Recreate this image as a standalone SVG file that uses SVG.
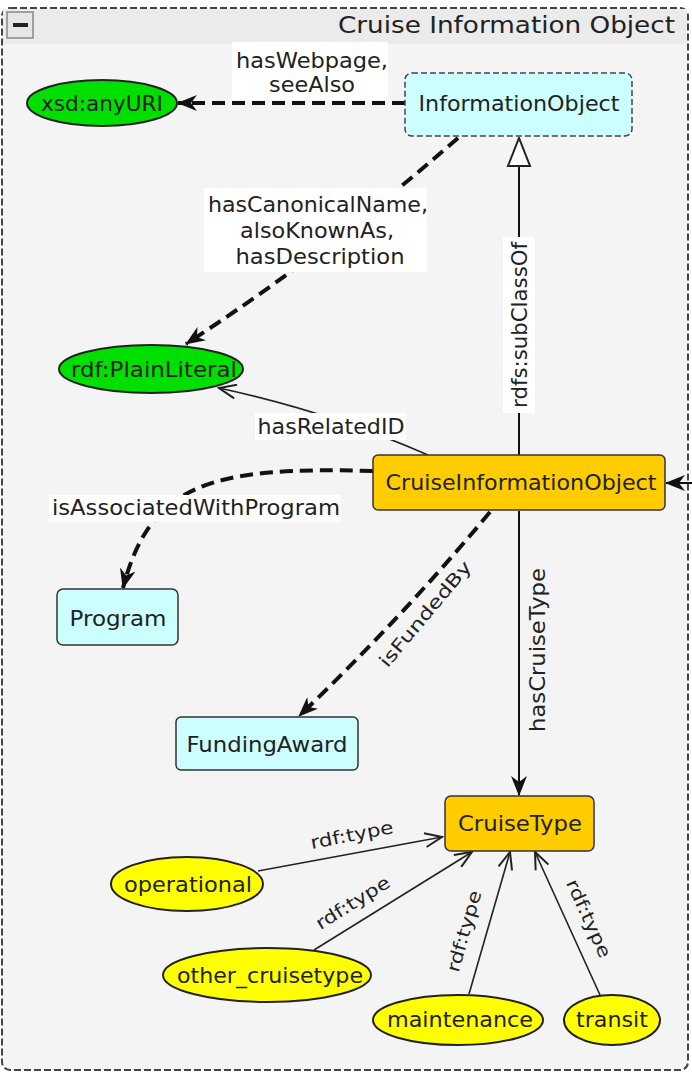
<svg xmlns="http://www.w3.org/2000/svg" width="692" height="1074" viewBox="0 0 692 1074">
<defs>
<style>
text{font-family:"DejaVu Sans","Liberation Sans",sans-serif;fill:#222;font-size:21px}
.c{text-anchor:middle}
.box{stroke:#333;stroke-width:1.5}
.cls{fill:#ccffff}
.main{fill:#ffcc00}
.lit{fill:#00e000;stroke:#222;stroke-width:2}
.ind{fill:#ffff00;stroke:#222;stroke-width:2}
.dash{fill:none;stroke:#111;stroke-width:4;stroke-dasharray:13,7}
.thin{fill:none;stroke:#222;stroke-width:1.6}
.solid{fill:none;stroke:#111;stroke-width:2}
.lbl{fill:#ffffff}
.sm{font-size:18px}
</style>
<marker id="fill" viewBox="0 0 20 16" refX="19" refY="8" markerWidth="20" markerHeight="16" markerUnits="userSpaceOnUse" orient="auto">
<path d="M0,0 L20,8 L0,16 L6,8 Z" fill="#111"/>
</marker>
<marker id="open" viewBox="0 0 20 16" refX="18" refY="8" markerWidth="20" markerHeight="16" markerUnits="userSpaceOnUse" orient="auto">
<path d="M1,1 L18,8 L1,15" fill="none" stroke="#222" stroke-width="2"/>
</marker>
<marker id="hollow" viewBox="0 0 30 26" refX="29" refY="13" markerWidth="30" markerHeight="26" markerUnits="userSpaceOnUse" orient="auto">
<path d="M1,2 L29,13 L1,24 Z" fill="#fff" stroke="#222" stroke-width="2"/>
</marker>
</defs>

<g id="frame">
<rect x="2" y="8" width="686" height="1062" rx="8" fill="#f4f4f4" stroke="#444" stroke-width="2" stroke-dasharray="7,3"/>
<rect x="3" y="9" width="684" height="35" fill="#ebebeb"/>
<rect x="7" y="12" width="26" height="26" fill="#e6e6e6" stroke="#888" stroke-width="1.5"/>
<rect x="13" y="23" width="15" height="4" fill="#222"/>
<text x="675" y="33" style="text-anchor:end;font-size:23px" textLength="337" lengthAdjust="spacingAndGlyphs">Cruise Information Object</text>
</g>

<g id="connectors">
<path class="dash" d="M405,103 L178,103" marker-end="url(#fill)"/>
<rect class="lbl" x="232" y="42" width="156" height="58"/>
<text class="c" x="312" y="68" textLength="152" lengthAdjust="spacingAndGlyphs">hasWebpage,</text>
<text class="c" x="312" y="92" textLength="86" lengthAdjust="spacingAndGlyphs">seeAlso</text>

<path class="dash" d="M458,138 Q 330,250 186,344" marker-end="url(#fill)"/>
<rect class="lbl" x="204" y="188" width="223" height="84"/>
<text class="c" x="318" y="212" textLength="220" lengthAdjust="spacingAndGlyphs">hasCanonicalName,</text>
<text class="c" x="317" y="238" textLength="154" lengthAdjust="spacingAndGlyphs">alsoKnownAs,</text>
<text class="c" x="320" y="264" textLength="169" lengthAdjust="spacingAndGlyphs">hasDescription</text>

<path class="solid" d="M519,456 L519,138" marker-end="url(#hollow)"/>
<rect class="lbl" x="503" y="237" width="32" height="176"/>
<text class="c" transform="translate(527,325) rotate(-90)" x="0" y="0" textLength="166" lengthAdjust="spacingAndGlyphs">rdfs:subClassOf</text>

<path class="thin" d="M428,455 Q 330,412 219,388" marker-end="url(#open)"/>
<rect class="lbl" x="255" y="413" width="151" height="27"/>
<text class="c" x="331" y="434" textLength="147" lengthAdjust="spacingAndGlyphs">hasRelatedID</text>

<path class="dash" d="M373,471 C 210,466 150,484 123,588" marker-end="url(#fill)"/>
<rect class="lbl" x="49" y="495" width="292" height="27"/>
<text class="c" x="196" y="515" textLength="288" lengthAdjust="spacingAndGlyphs">isAssociatedWithProgram</text>

<path class="dash" d="M490,512 Q 400,620 299,716" marker-end="url(#fill)"/>
<text class="c sm" transform="translate(430,618) rotate(-50)" x="0" y="0" textLength="132" lengthAdjust="spacingAndGlyphs">isFundedBy</text>

<path class="solid" d="M519,511 L519,795" marker-end="url(#fill)"/>
<text class="c" transform="translate(545,650) rotate(-90)" x="0" y="0" textLength="164" lengthAdjust="spacingAndGlyphs">hasCruiseType</text>

<path class="solid" d="M692,483 L666,483" marker-end="url(#fill)"/>

<path class="thin" d="M258,871 L442,837" marker-end="url(#open)"/>
<text class="c sm" transform="translate(353,841) rotate(-11)" x="0" y="0" textLength="84" lengthAdjust="spacingAndGlyphs">rdf:type</text>

<path class="thin" d="M314,950 L472,852" marker-end="url(#open)"/>
<text class="c sm" transform="translate(356,908) rotate(-32)" x="0" y="0" textLength="84" lengthAdjust="spacingAndGlyphs">rdf:type</text>

<path class="thin" d="M469,994 L510,852" marker-end="url(#open)"/>
<text class="c sm" transform="translate(470,933) rotate(-74)" x="0" y="0" textLength="84" lengthAdjust="spacingAndGlyphs">rdf:type</text>

<path class="thin" d="M600,995 L535,852" marker-end="url(#open)"/>
<text class="c sm" transform="translate(583,921) rotate(65.6)" x="0" y="0" textLength="84" lengthAdjust="spacingAndGlyphs">rdf:type</text>
</g>

<g id="n-anyURI">
<ellipse class="lit" cx="102" cy="103" rx="75" ry="23"/>
<text class="c" x="102" y="111" textLength="122" lengthAdjust="spacingAndGlyphs">xsd:anyURI</text>
</g>
<g id="n-InformationObject">
<rect class="cls" x="405" y="73" width="227" height="63" rx="7" stroke="#444" stroke-width="1.5" stroke-dasharray="6,3"/>
<text class="c" x="519" y="111" textLength="201" lengthAdjust="spacingAndGlyphs">InformationObject</text>
</g>
<g id="n-PlainLiteral">
<ellipse class="lit" cx="151" cy="369" rx="92" ry="24"/>
<text class="c" x="154" y="377" textLength="166" lengthAdjust="spacingAndGlyphs">rdf:PlainLiteral</text>
</g>
<g id="n-CruiseInformationObject">
<rect class="main box" x="373" y="455" width="292" height="55" rx="5"/>
<text class="c" x="521" y="490" textLength="271" lengthAdjust="spacingAndGlyphs">CruiseInformationObject</text>
</g>
<g id="n-Program">
<rect class="cls box" x="57" y="589" width="121" height="56" rx="6"/>
<text class="c" x="118" y="626" textLength="97" lengthAdjust="spacingAndGlyphs">Program</text>
</g>
<g id="n-FundingAward">
<rect class="cls box" x="176" y="717" width="182" height="53" rx="5"/>
<text class="c" x="267" y="752" textLength="161" lengthAdjust="spacingAndGlyphs">FundingAward</text>
</g>
<g id="n-CruiseType">
<rect class="main box" x="445" y="796" width="149" height="55" rx="6"/>
<text class="c" x="520" y="831" textLength="124" lengthAdjust="spacingAndGlyphs">CruiseType</text>
</g>
<g id="n-operational">
<ellipse class="ind" cx="187" cy="884" rx="76" ry="27"/>
<text class="c" x="188" y="892" textLength="128" lengthAdjust="spacingAndGlyphs">operational</text>
</g>
<g id="n-other_cruisetype">
<ellipse class="ind" cx="267" cy="975" rx="104" ry="27"/>
<text class="c" x="270" y="983" textLength="186" lengthAdjust="spacingAndGlyphs">other_cruisetype</text>
</g>
<g id="n-maintenance">
<ellipse class="ind" cx="458" cy="1020" rx="85" ry="25"/>
<text class="c" x="460" y="1027" textLength="146" lengthAdjust="spacingAndGlyphs">maintenance</text>
</g>
<g id="n-transit">
<ellipse class="ind" cx="612" cy="1020" rx="48" ry="25"/>
<text class="c" x="612" y="1027" textLength="72" lengthAdjust="spacingAndGlyphs">transit</text>
</g>
</svg>
